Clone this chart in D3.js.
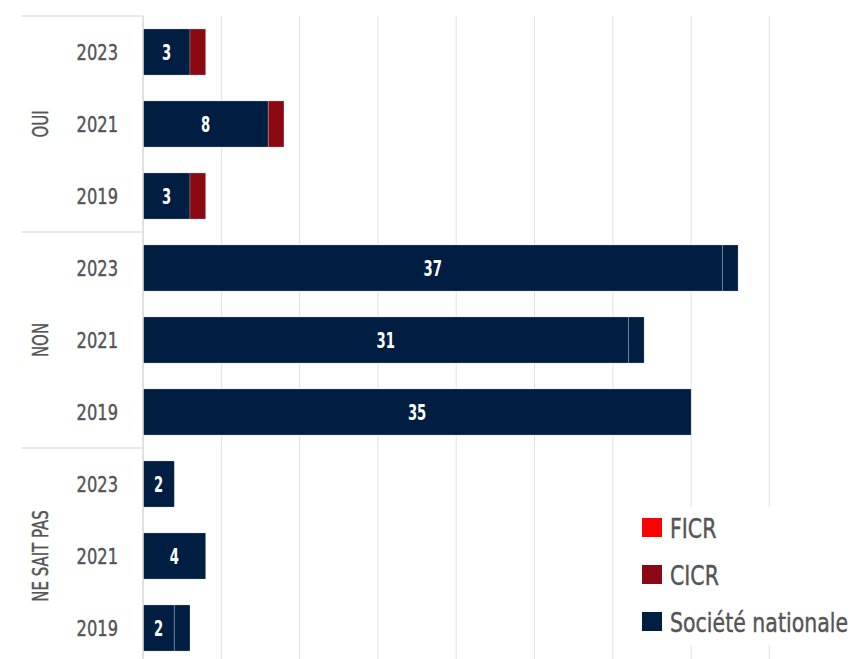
<!DOCTYPE html>
<html>
<head>
<meta charset="utf-8">
<script src="https://cdn.jsdelivr.net/npm/d3@7"></script>
<style>
  body { margin: 0; background: #fff; }
  svg { display: block; font-family: "DejaVu Sans", sans-serif; }
  .gray { fill: #555; stroke: #555; stroke-width: 0.45px; }
</style>
</head>
<body>
<svg id="chart"></svg>
<script>
// Data
var groups = ["OUI", "NON", "NE SAIT PAS"];
var years = ["2023", "2021", "2019"];
var societeNationale = [3, 8, 3, 37, 31, 35, 2, 4, 2];
var autre = [0, 0, 0, 1, 1, 0, 0, 0, 1];   // extra navy segment, not in legend
var cicr = [1, 1, 1, 0, 0, 0, 0, 0, 0];
var ficr = [0, 0, 0, 0, 0, 0, 0, 0, 0];
var xTicks = [0, 5, 10, 15, 20, 25, 30, 35, 40];
var legendItems = ["FICR", "CICR", "Société nationale"];

var width = 854, height = 659;
var marginTop = 16, marginLeft = 143;

var colors = { sn: "#001d42", autre: "#001d42", cicr: "#8a0912", ficr: "#ff0000" };
var legendColors = [colors.ficr, colors.cicr, colors.sn];

// Build rows
var rows = [];
groups.forEach(function (g, gi) {
    years.forEach(function (yr, yi) {
        var i = gi * years.length + yi;
        rows.push({ id: g + "-" + yr, group: g, year: yr,
            sn: societeNationale[i], autre: autre[i], cicr: cicr[i], ficr: ficr[i] });
    });
});

// No condensed font installed: squeeze text horizontally around its anchor.
function condensed(k, fx, fy) {
    return function (d, i) {
        return "translate(" + fx(d, i) + "," + fy(d, i) + ")scale(" + k + ",1)";
    };
}

var svg = d3.select("#chart").attr("width", width).attr("height", height);

var x = d3.scaleLinear().domain([0, 40]).range([marginLeft, 769.4]);
var y = d3.scaleBand()
    .domain(rows.map(function (d) { return d.id; }))
    .range([marginTop, marginTop + 72 * rows.length])
    .paddingInner(0.36).paddingOuter(0.18);

// Gridlines
svg.append("g").selectAll("line").data(xTicks).enter().append("line")
    .attr("x1", function (d) { return x(d); }).attr("x2", function (d) { return x(d); })
    .attr("y1", marginTop).attr("y2", height)
    .attr("stroke", "#e2e2e2").attr("stroke-width", 1);

// Group separators (left side)
var sepYs = [0, 3, 6].map(function (i) { return y.step() * i + marginTop; });
svg.append("g").selectAll("line").data(sepYs).enter().append("line")
    .attr("x1", 21).attr("x2", marginLeft)
    .attr("y1", function (d) { return d; }).attr("y2", function (d) { return d; })
    .attr("stroke", "#e2e2e2").attr("stroke-width", 1.5);

// Stacked bars
var keys = ["sn", "autre", "cicr", "ficr"];
var series = d3.stack().keys(keys)(rows);

svg.append("g").selectAll("g").data(series).enter().append("g")
    .attr("fill", function (d) { return colors[d.key]; })
    .selectAll("rect").data(function (d) { return d.filter(function (p) { return p[1] > p[0]; }); })
    .enter().append("rect")
    .attr("x", function (d) { return x(d[0]); })
    .attr("y", function (d) { return y(d.data.id); })
    .attr("width", function (d) { return x(d[1]) - x(d[0]); })
    .attr("height", y.bandwidth())
    .attr("stroke", "rgba(255,255,255,0.22)")
    .attr("stroke-width", 1);

// Value labels (Société nationale)
svg.append("g").selectAll("text").data(rows).enter().append("text")
    .attr("transform", condensed(0.6,
        function (d) { return (x(0) + x(d.sn)) / 2; },
        function (d) { return y(d.id) + y.bandwidth() / 2; }))
    .attr("dy", "0.36em")
    .attr("text-anchor", "middle")
    .attr("fill", "#fff").attr("font-weight", "bold").attr("font-size", 22)
    .text(function (d) { return d.sn; });

// Year labels
svg.append("g").selectAll("text").data(rows).enter().append("text")
    .attr("class", "gray")
    .attr("transform", condensed(0.74,
        function () { return 118; },
        function (d) { return y(d.id) + y.bandwidth() / 2; }))
    .attr("dy", "0.36em")
    .attr("text-anchor", "end")
    .attr("font-size", 22)
    .text(function (d) { return d.year; });

// Group labels (rotated)
svg.append("g").selectAll("text").data(groups).enter().append("text")
    .attr("class", "gray")
    .attr("transform", function (d, i) {
        var cy = marginTop + y.step() * (i * 3 + 1.5);
        return "translate(40," + cy + ")rotate(-90)scale(0.68,1)";
    })
    .attr("dy", "0.36em")
    .attr("text-anchor", "middle")
    .attr("font-size", 22)
    .text(function (d) { return d; });

// Axis line
svg.append("line")
    .attr("x1", marginLeft).attr("x2", marginLeft).attr("y1", marginTop).attr("y2", height)
    .attr("stroke", "#dcdcdc").attr("stroke-width", 1.5);

// Legend
var legend = svg.append("g");
legend.append("rect")
    .attr("x", 625).attr("y", 507).attr("width", 229).attr("height", 138)
    .attr("fill", "#fff");
var li = legend.selectAll("g").data(legendItems).enter().append("g")
    .attr("transform", function (d, i) { return "translate(642," + (518 + i * 47) + ")"; });
li.append("rect").attr("width", 20).attr("height", 19)
    .attr("fill", function (d, i) { return legendColors[i]; });
li.append("text")
    .attr("class", "gray")
    .attr("transform", "translate(28,10)scale(0.76,1)")
    .attr("dy", "0.36em")
    .attr("font-size", 27)
    .text(function (d) { return d; });
</script>
</body>
</html>
